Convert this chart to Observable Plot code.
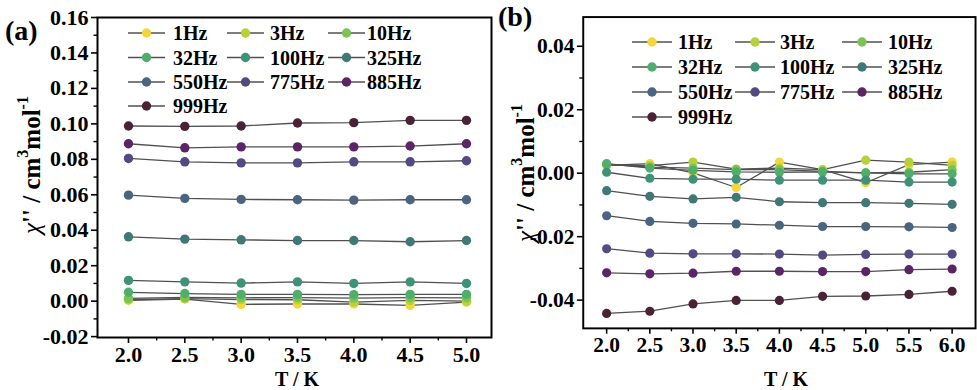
<!DOCTYPE html>
<html>
<head>
<meta charset="utf-8">
<script src="https://cdn.jsdelivr.net/npm/d3@7"></script>
<script src="https://cdn.jsdelivr.net/npm/@observablehq/plot@0.6"></script>
<style>
  html, body { margin: 0; padding: 0; background: #fff; }
  #wrap { position: relative; width: 977px; height: 390px; overflow: hidden; background: #fff; }
  #wrap > div, #wrap > svg { position: absolute; top: 0; }
  #pa { left: 0px; }
  #pb { left: 492px; }
  #overlay { left: 0; top: 0; pointer-events: none; }
  svg text { font-family: "Liberation Serif", "Times New Roman", serif; }
</style>
</head>
<body>
<div id="wrap">
  <div id="pa"></div>
  <div id="pb"></div>
</div>
<script>
// ---------- data ----------
const freqLabels = ["1Hz","3Hz","10Hz","32Hz","100Hz","325Hz","550Hz","775Hz","885Hz","999Hz"];
const seriesColors = ["#f3d63c","#b5d23a","#7cc353","#4fae6c","#3d9278","#417875","#4b6480","#524a80","#5a2466","#4a2236"];

const tempsA = [2.0, 2.5, 3.0, 3.5, 4.0, 4.5, 5.0];
const a1Hz   = [0.0005, 0.0012, -0.0018, -0.0016, -0.0016, -0.0024, -0.0006];
const a3Hz   = [0.0008, 0.0014, 0.0009, 0.0008, -0.0005, 0.0004, 0.0000];
const a10Hz  = [0.0016, 0.0021, 0.0019, 0.0020, 0.0017, 0.0020, 0.0019];
const a32Hz  = [0.0050, 0.0043, 0.0038, 0.0038, 0.0037, 0.0038, 0.0038];
const a100Hz = [0.0117, 0.0109, 0.0102, 0.0109, 0.0100, 0.0109, 0.0100];
const a325Hz = [0.0363, 0.0350, 0.0346, 0.0342, 0.0342, 0.0335, 0.0342];
const a550Hz = [0.0598, 0.0580, 0.0574, 0.0572, 0.0570, 0.0572, 0.0572];
const a775Hz = [0.0805, 0.0786, 0.0780, 0.0780, 0.0786, 0.0786, 0.0792];
const a885Hz = [0.0888, 0.0865, 0.0870, 0.0870, 0.0870, 0.0875, 0.0888];
const a999Hz = [0.0988, 0.0986, 0.0988, 0.1005, 0.1007, 0.1020, 0.1020];

const tempsB = [2.0, 2.5, 3.0, 3.5, 4.0, 4.5, 5.0, 5.5, 6.0];
const b1Hz   = [0.0025, 0.0030, 0.0001, -0.0045, 0.0035, 0.0011, -0.0030, 0.0027, 0.0035];
const b3Hz   = [0.0026, 0.0024, 0.0035, 0.0013, 0.0016, 0.0011, 0.0041, 0.0035, 0.0025];
const b10Hz  = [0.0028, 0.0019, 0.0016, 0.0011, 0.0011, 0.0006, 0.0001, 0.0003, 0.0011];
const b32Hz  = [0.0030, 0.0016, 0.0009, 0.0004, 0.0003, 0.0004, 0.0001, -0.0002, -0.0002];
const b100Hz = [0.0003, -0.0016, -0.0019, -0.0019, -0.0022, -0.0022, -0.0022, -0.0028, -0.0028];
const b325Hz = [-0.0055, -0.0073, -0.0081, -0.0076, -0.0090, -0.0093, -0.0093, -0.0095, -0.0098];
const b550Hz = [-0.0134, -0.0152, -0.0158, -0.0160, -0.0164, -0.0168, -0.0168, -0.0169, -0.0171];
const b775Hz = [-0.0238, -0.0252, -0.0254, -0.0254, -0.0255, -0.0258, -0.0256, -0.0255, -0.0255];
const b885Hz = [-0.0314, -0.0317, -0.0315, -0.0309, -0.0309, -0.0310, -0.0310, -0.0304, -0.0302];
const b999Hz = [-0.0442, -0.0435, -0.0412, -0.0401, -0.0401, -0.0388, -0.0387, -0.0382, -0.0372];

const yTicksA = [-0.02, 0.00, 0.02, 0.04, 0.06, 0.08, 0.10, 0.12, 0.14, 0.16];
const yTicksB = [-0.04, -0.02, 0.00, 0.02, 0.04];
const xTicksA = [2.0, 2.5, 3.0, 3.5, 4.0, 4.5, 5.0];
const xTicksB = [2.0, 2.5, 3.0, 3.5, 4.0, 4.5, 5.0, 5.5, 6.0];

const seriesA = [a1Hz,a3Hz,a10Hz,a32Hz,a100Hz,a325Hz,a550Hz,a775Hz,a885Hz,a999Hz];
const seriesB = [b1Hz,b3Hz,b10Hz,b32Hz,b100Hz,b325Hz,b550Hz,b775Hz,b885Hz,b999Hz];

// ---------- helpers ----------
const FONT = '"Liberation Serif", "Times New Roman", serif';
function toRows(temps, series) {
  const rows = [];
  series.forEach((vals, si) => vals.forEach((v, i) => rows.push({T: temps[i], v, s: freqLabels[si]})));
  return rows;
}
function minorTicks(major, steps) {
  const out = [];
  for (let i = 0; i < major.length - 1; i++) {
    for (let k = 1; k < steps; k++) out.push(major[i] + (major[i+1]-major[i]) * k / steps);
  }
  return out;
}
const fmt2 = v => (Math.abs(v) < 1e-9 ? 0 : v).toFixed(2);
const fmt1 = v => v.toFixed(1);

function panel({temps, series, xDomain, yDomain, xTicks, yTicks, width, marginLeft, marginRight, marginBottom}) {
  const rows = toRows(temps, series);
  const marks = [];
  freqLabels.forEach((lab, si) => {
    const sub = rows.filter(r => r.s === lab);
    marks.push(Plot.line(sub, {x: "T", y: "v", stroke: "#505050", strokeWidth: 1.3}));
    marks.push(Plot.dot(sub, {x: "T", y: "v", r: 4.7, fill: seriesColors[si], stroke: "none"}));
  });
  marks.push(Plot.frame({stroke: "#000", strokeWidth: 2}));
  marks.push(Plot.axisY(yTicks, {tickSize: 6, tickPadding: 3, tickFormat: fmt2, strokeWidth: 1.6, fontSize: 22, label: null}));
  marks.push(Plot.axisY(minorTicks(yTicks, 2), {tickSize: 3.5, text: null, strokeWidth: 1.4, label: null}));
  marks.push(Plot.axisX(xTicks, {tickSize: 6, tickPadding: 3, tickFormat: fmt1, strokeWidth: 1.6, fontSize: 22, label: null}));
  marks.push(Plot.axisX(minorTicks(xTicks, 2), {tickSize: 3.5, text: null, strokeWidth: 1.4, label: null}));
  return Plot.plot({
    width, height: 390,
    marginLeft, marginRight, marginTop: 17, marginBottom,
    x: {domain: xDomain},
    y: {domain: yDomain},
    style: {fontFamily: FONT, fontWeight: "bold", fontSize: "22px", color: "#000", background: "transparent", overflow: "visible"},
    marks
  });
}

document.getElementById("pa").append(panel({
  temps: tempsA, series: seriesA,
  xDomain: [1.725, 5.222], yDomain: [-0.0205, 0.16],
  xTicks: xTicksA, yTicks: yTicksA,
  width: 492, marginLeft: 97, marginRight: 1, marginBottom: 53
}));
document.getElementById("pb").append(panel({
  temps: tempsB, series: seriesB,
  xDomain: [1.729, 6.271], yDomain: [-0.0489, 0.0492],
  xTicks: xTicksB, yTicks: yTicksB,
  width: 497, marginLeft: 93, marginRight: 2, marginBottom: 54
}));

// ---------- overlay: titles, panel letters, legends ----------
const svg = d3.select("#wrap").append("svg").attr("id", "overlay")
  .attr("width", 977).attr("height", 390)
  .style("font-family", FONT).style("font-weight", "bold").style("position", "absolute");

// panel letters
svg.append("text").attr("x", 5).attr("y", 40).attr("font-size", 28).text("(a)");
svg.append("text").attr("x", 498).attr("y", 26).attr("font-size", 28).text("(b)");

// x titles
svg.append("text").attr("x", 297).attr("y", 386).attr("text-anchor", "middle").attr("font-size", 20).text("T / K");
svg.append("text").attr("x", 786).attr("y", 386).attr("text-anchor", "middle").attr("font-size", 20).text("T / K");

// y titles
function yTitle(cx, cy) {
  const t = svg.append("text").attr("transform", `translate(${cx},${cy}) rotate(-90)`)
    .attr("text-anchor", "middle").attr("dominant-baseline", "central").attr("font-size", 25);
  t.append("tspan").attr("font-style", "italic").attr("font-weight", "normal").text("χ");
  t.append("tspan").text("'' / cm");
  t.append("tspan").attr("font-size", 16).attr("dy", -9).text("3");
  t.append("tspan").attr("dy", 9).text("mol");
  t.append("tspan").attr("font-size", 16).attr("dy", -9).text("-1");
}
yTitle(31, 165);
yTitle(525, 173);

// legends
function legend(colX, textX, rowY, swW) {
  freqLabels.forEach((lab, i) => {
    const c = i % 3, r = Math.floor(i / 3);
    const x0 = colX[c], y = rowY[r];
    svg.append("line").attr("x1", x0).attr("x2", x0 + swW).attr("y1", y).attr("y2", y)
      .attr("stroke", "#505050").attr("stroke-width", 1.3);
    svg.append("circle").attr("cx", x0 + swW / 2).attr("cy", y).attr("r", 4.7).attr("fill", seriesColors[i]);
    svg.append("text").attr("x", textX[c]).attr("y", y).attr("dominant-baseline", "central")
      .attr("font-size", 20).text(lab);
  });
}
legend([128, 227, 328], [173, 270, 367], [33, 57.5, 82, 106], 37);
legend([632, 735, 842], [678, 780, 888], [42, 67, 92, 117], 40);
</script>
</body>
</html>
